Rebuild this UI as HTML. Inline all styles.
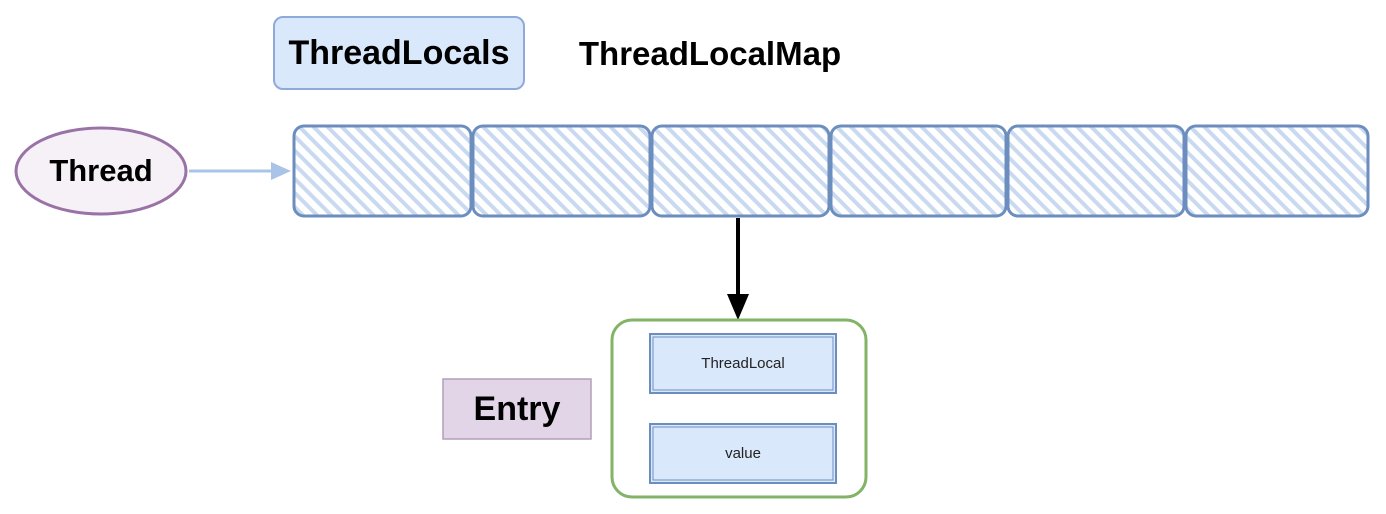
<!DOCTYPE html>
<html><head><style>
body{margin:0;width:1386px;height:514px;background:#fff;overflow:hidden;position:relative;font-family:"Liberation Sans",sans-serif}
.a{position:absolute;box-sizing:border-box;display:flex;align-items:center;justify-content:center}
</style></head><body>
<svg width="1386" height="514" style="position:absolute;left:0;top:0">
<defs><pattern id="h" width="10" height="10" patternUnits="userSpaceOnUse" patternTransform="rotate(-45)"><rect width="10" height="10" fill="#fff"/><rect width="4" height="10" fill="#c9daf0"/></pattern></defs>
<rect x="274" y="17" width="250" height="72" rx="9" fill="#dae8fc" stroke="#8eaadb" stroke-width="2"/>
<ellipse cx="101" cy="171" rx="85" ry="43" fill="#f6f1f6" stroke="#9a73a6" stroke-width="3"/>
<line x1="189" y1="171" x2="275" y2="171" stroke="#a9c4e6" stroke-width="3"/>
<polygon points="291,171 271,162 271,180" fill="#a9c4e6"/>
<g fill="url(#h)" stroke="#6c8ebf" stroke-width="3">
<rect x="294" y="126" width="177" height="90" rx="10"/>
<rect x="473" y="126" width="177" height="90" rx="10"/>
<rect x="652" y="126" width="177" height="90" rx="10"/>
<rect x="831" y="126" width="175" height="90" rx="10"/>
<rect x="1008" y="126" width="176" height="90" rx="10"/>
<rect x="1186" y="126" width="182" height="90" rx="10"/>
</g>
<line x1="738" y1="218" x2="738" y2="295" stroke="#000" stroke-width="4"/>
<polygon points="738,320 727,294 749,294" fill="#000"/>
<rect x="612" y="320" width="254" height="177" rx="20" fill="#fff" stroke="#82b366" stroke-width="3"/>
<rect x="650" y="334" width="186" height="59" fill="#dae8fc" stroke="#6c8ebf" stroke-width="2"/>
<rect x="653" y="337" width="180" height="53" fill="none" stroke="#6c8ebf" stroke-width="1"/>
<rect x="650" y="424" width="186" height="59" fill="#dae8fc" stroke="#6c8ebf" stroke-width="2"/>
<rect x="653" y="427" width="180" height="53" fill="none" stroke="#6c8ebf" stroke-width="1"/>
<rect x="443" y="379" width="148" height="60" fill="#e1d5e7" stroke="#b39fb8" stroke-width="1.5"/>
</svg>
<div class="a" style="left:274px;top:17px;width:250px;height:72px;font-size:34px;font-weight:bold">ThreadLocals</div>
<div class="a" style="left:550px;top:32px;width:320px;height:44px;font-size:33px;font-weight:bold">ThreadLocalMap</div>
<div class="a" style="left:16px;top:128px;width:170px;height:86px;font-size:31px;font-weight:bold">Thread</div>
<div class="a" style="left:443px;top:379px;width:148px;height:60px;font-size:34px;font-weight:bold">Entry</div>
<div class="a" style="left:650px;top:334px;width:186px;height:59px;font-size:15px;color:#222">ThreadLocal</div>
<div class="a" style="left:650px;top:424px;width:186px;height:59px;font-size:15px;color:#222">value</div>
</body></html>
